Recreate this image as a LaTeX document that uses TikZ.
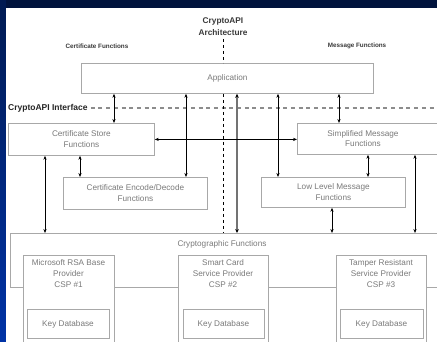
\documentclass[tikz,border=0pt]{standalone}
\usepackage{fontspec}
\setmainfont{Liberation Sans}
\usetikzlibrary{arrows.meta}
\definecolor{navy}{HTML}{00133D}
\definecolor{navyside}{HTML}{001A52}
\definecolor{blueside}{HTML}{0033A6}
\definecolor{boxline}{HTML}{A8A8A8}
\definecolor{boxtext}{HTML}{7A7A7A}
\definecolor{labeltext}{HTML}{3A3A3A}
\begin{document}
\begin{tikzpicture}[x=1pt,y=-1pt,
  box/.style={draw=boxline, line width=0.8pt, fill=white, text=boxtext,
    font=\fontsize{8.2}{11}\selectfont, align=center, inner sep=0pt, anchor=north west},
  boxfont/.style={text=boxtext, font=\fontsize{8.2}{10.6}\selectfont, align=center, inner sep=0pt},
  headlbl/.style={text=labeltext, font=\bfseries\fontsize{6.3}{8}\selectfont, inner sep=0pt},
  titlelbl/.style={text=labeltext, font=\bfseries\fontsize{8.3}{12.5}\selectfont, align=center, inner sep=0pt},
  iflbl/.style={text=black!85, font=\bfseries\fontsize{8.5}{10}\selectfont, inner sep=0pt},
  arr/.style={{Stealth[length=4pt,width=3.2pt]}-{Stealth[length=4pt,width=3.2pt]}, line width=0.6pt, black},
  thickarr/.style={{Stealth[length=4pt,width=3.6pt,color=black]}-{Stealth[length=4pt,width=3.6pt,color=black]}, line width=1.5pt, black!55},
  archdash/.style={black, line width=0.7pt, dash pattern=on 3pt off 3pt},
  ifdash/.style={black!45, line width=1.4pt, dash pattern=on 4pt off 3.7pt}
]
\useasboundingbox (0,0) rectangle (437,342);
% background
\fill[navy] (0,0) rectangle (437,8);
\shade[top color=navyside, bottom color=blueside] (0,0) rectangle (6,342);
\fill[white] (6,8) rectangle (437,342);

% labels
\node[titlelbl] (title) at (223,26.5) {CryptoAPI\\Architecture};
\node[headlbl] (certfn) at (97,46) {Certificate Functions};
\node[headlbl] (msgfn) at (357,46) {Message Functions};

% boxes
\node[box, minimum width=292pt, minimum height=30pt] (app) at (81,63) {Application};
\node[box, minimum width=146pt, minimum height=32pt] (certstore) at (8,123) {Certificate Store\\Functions};
\node[box, minimum width=150pt, minimum height=31pt] (simp) at (297,123) {};
\node[boxfont] (simptxt) at (363,138.5) {Simplified Message\\Functions};
\node[box, minimum width=144pt, minimum height=32pt] (encode) at (63,177) {Certificate Encode/Decode\\Functions};
\node[box, minimum width=144pt, minimum height=30pt] (lowlevel) at (261,177) {Low Level Message\\Functions};

% cryptographic functions
\node[box, minimum width=440pt, minimum height=54pt] (crypto) at (10,233) {};
\node[boxfont] (cryptolbl) at (222,244) {Cryptographic Functions};

\node[box, minimum width=91pt, minimum height=100pt, anchor=north] (csp1) at (68.5,255) {};
\node[box, minimum width=90pt, minimum height=100pt, anchor=north] (csp2) at (223,255) {};
\node[box, minimum width=90pt, minimum height=100pt, anchor=north] (csp3) at (381,255) {};
\node[boxfont] (csp1txt) at (68.5,273.5) {Microsoft RSA Base\\Provider\\CSP \#1};
\node[boxfont] (csp2txt) at (223,273.5) {Smart Card\\Service Provider\\CSP \#2};
\node[boxfont] (csp3txt) at (381,273.5) {Tamper Resistant\\Service Provider\\CSP \#3};
\node[box, minimum width=82pt, minimum height=29pt, anchor=north] (kd1) at (68,309) {Key Database};
\node[box, minimum width=81pt, minimum height=29pt, anchor=north] (kd2) at (223.5,309) {Key Database};
\node[box, minimum width=83pt, minimum height=29pt, anchor=north] (kd3) at (381.5,309) {Key Database};

% interface line
\node[iflbl, anchor=west] (iflabel) at (8,108) {CryptoAPI Interface};
\coordinate (ifend) at (440,108);
\draw[ifdash] ([xshift=3pt]iflabel.east) -- (ifend);

% architecture divider
\coordinate (archtop) at (223,39);
\draw[archdash] (archtop) -- (archtop |- app.north);
\draw[archdash] (archtop |- app.south) -- (archtop |- crypto.north);

% x positions of connectors
\coordinate (c45) at (45,0);
\coordinate (c80) at (80,0);
\coordinate (c114) at (114,0);
\coordinate (c186) at (186,0);
\coordinate (c237) at (237,0);
\coordinate (c278) at (278,0);
\coordinate (c332) at (332,0);
\coordinate (c339) at (339,0);
\coordinate (c368) at (368,0);
\coordinate (c415) at (415,0);

% connectors
\draw[arr] (c114 |- app.south) -- (c114 |- certstore.north);
\draw[arr] (c186 |- app.south) -- (c186 |- encode.north);
\draw[thickarr] (c237 |- app.south) -- (c237 |- crypto.north);
\draw[arr] (c278 |- app.south) -- (c278 |- lowlevel.north);
\draw[arr] (c339 |- app.south) -- (c339 |- simp.north);
\draw[arr] (certstore.east) -- (certstore.east -| simp.west);
\draw[arr] (c45 |- certstore.south) -- (c45 |- crypto.north);
\draw[arr] (c80 |- certstore.south) -- (c80 |- encode.north);
\draw[arr] (c368 |- simp.south) -- (c368 |- lowlevel.north);
\draw[arr] (c415 |- simp.south) -- (c415 |- crypto.north);
\draw[arr] (c332 |- lowlevel.south) -- (c332 |- crypto.north);
\end{tikzpicture}
\end{document}
